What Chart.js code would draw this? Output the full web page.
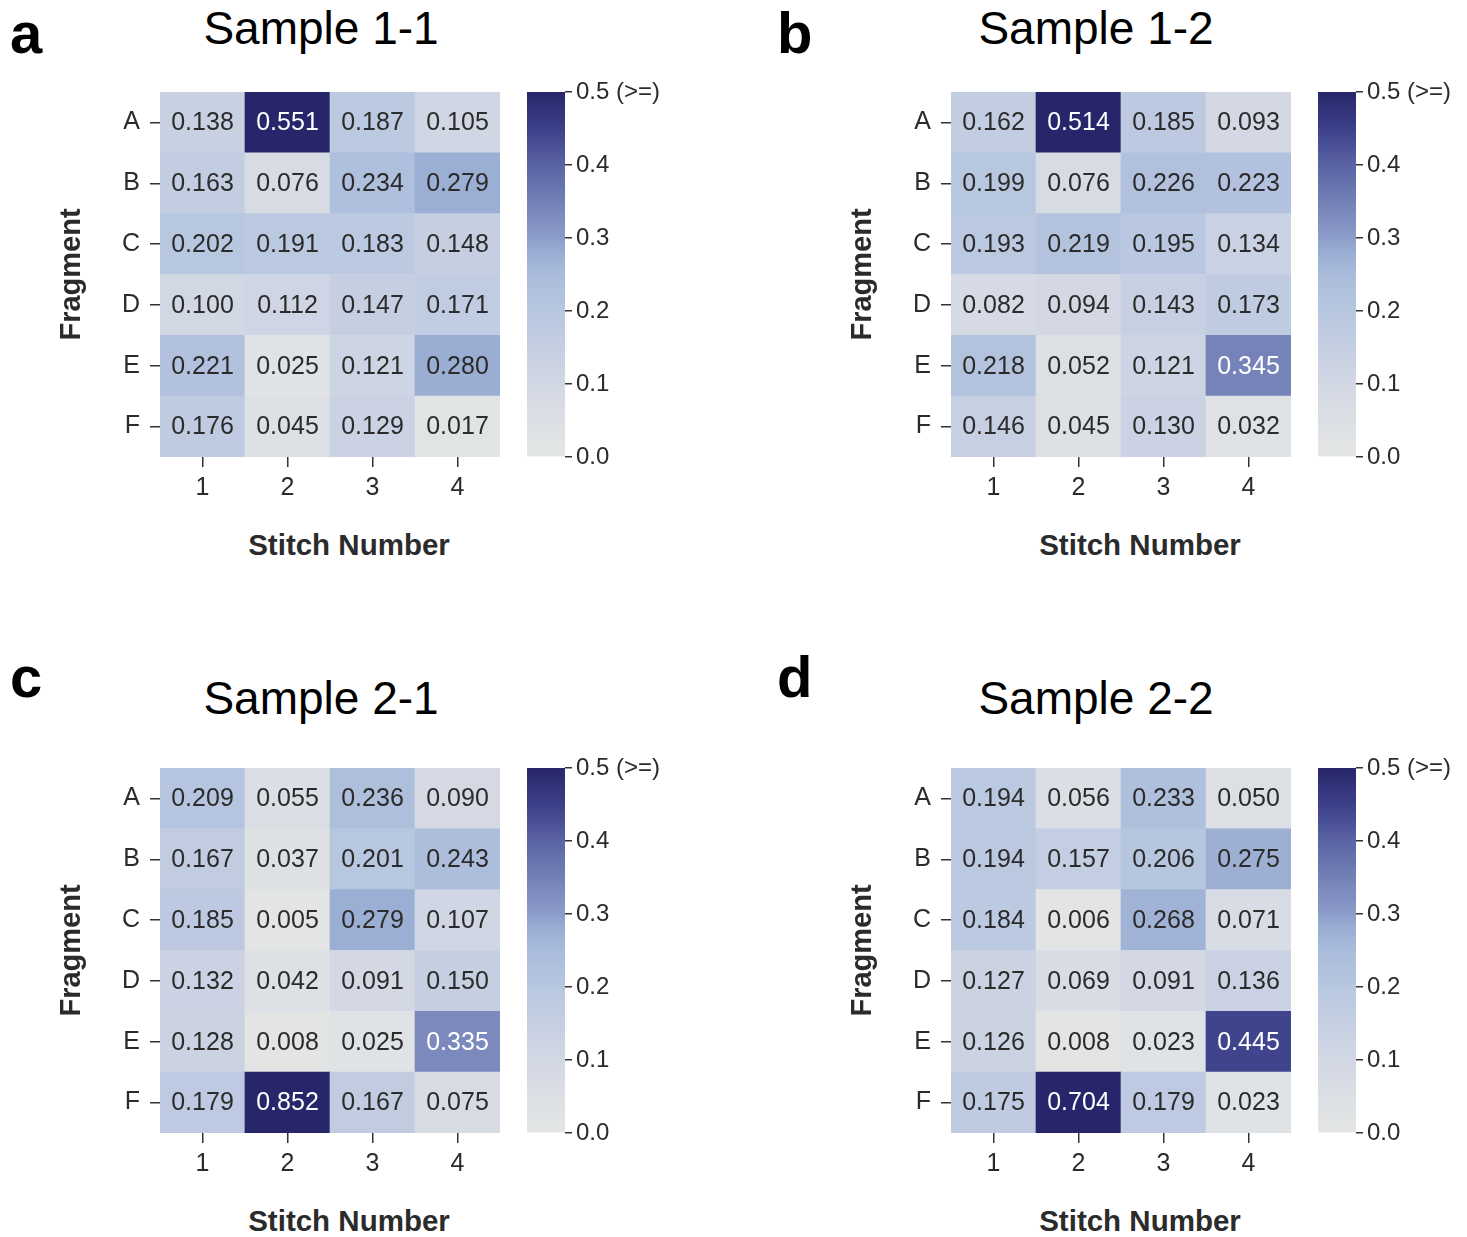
<!DOCTYPE html>
<html>
<head>
<meta charset="utf-8">
<title>Stitch heatmaps</title>
<script src="https://cdn.jsdelivr.net/npm/chart.js@4.4.1/dist/chart.umd.min.js"></script>
<style>
  body { margin: 0; background: #fff; }
  #page { position: relative; width: 1467px; height: 1237px; overflow: hidden; font-family: "Liberation Sans", Arial, sans-serif; }
  canvas { position: absolute; }
  .txt { position: absolute; white-space: nowrap; line-height: 1; color: #000; }
  .letter { font-size: 58px; font-weight: bold; }
  .title { font-size: 46px; transform: translateX(-50%); }
  .xtitle { font-size: 29.5px; font-weight: bold; color: #2b2b2b; transform: translateX(-50%); }
</style>
</head>
<body>
<div id="page"></div>
<script>
// rows are fragments A..F, columns stitch 1..4
var fragments = ['A', 'B', 'C', 'D', 'E', 'F'];
var stitches = ['1', '2', '3', '4'];
var cbarTicks = [0, 0.1, 0.2, 0.3, 0.4, 0.5];
var vmax = 0.5;

var sample11 = [
  [0.138, 0.551, 0.187, 0.105],
  [0.163, 0.076, 0.234, 0.279],
  [0.202, 0.191, 0.183, 0.148],
  [0.100, 0.112, 0.147, 0.171],
  [0.221, 0.025, 0.121, 0.280],
  [0.176, 0.045, 0.129, 0.017]
];
var sample12 = [
  [0.162, 0.514, 0.185, 0.093],
  [0.199, 0.076, 0.226, 0.223],
  [0.193, 0.219, 0.195, 0.134],
  [0.082, 0.094, 0.143, 0.173],
  [0.218, 0.052, 0.121, 0.345],
  [0.146, 0.045, 0.130, 0.032]
];
var sample21 = [
  [0.209, 0.055, 0.236, 0.090],
  [0.167, 0.037, 0.201, 0.243],
  [0.185, 0.005, 0.279, 0.107],
  [0.132, 0.042, 0.091, 0.150],
  [0.128, 0.008, 0.025, 0.335],
  [0.179, 0.852, 0.167, 0.075]
];
var sample22 = [
  [0.194, 0.056, 0.233, 0.050],
  [0.194, 0.157, 0.206, 0.275],
  [0.184, 0.006, 0.268, 0.071],
  [0.127, 0.069, 0.091, 0.136],
  [0.126, 0.008, 0.023, 0.445],
  [0.175, 0.704, 0.179, 0.023]
];

// colormap, value -> rgb
var colorStops = [
  [0.00, 228, 230, 229],
  [0.05, 220, 223, 228],
  [0.10, 210, 215, 228],
  [0.15, 197, 207, 226],
  [0.20, 184, 199, 224],
  [0.25, 170, 188, 219],
  [0.28, 154, 173, 211],
  [0.30, 141, 157, 202],
  [0.35, 115, 128, 182],
  [0.40, 90, 99, 164],
  [0.45, 60, 64, 138],
  [0.50, 40, 38, 106]
];

function cellColor(v) {
  v = Math.max(0, Math.min(vmax, v));
  for (var i = 1; i < colorStops.length; i++) {
    var a = colorStops[i - 1], b = colorStops[i];
    if (v <= b[0]) {
      var t = (v - a[0]) / (b[0] - a[0]);
      return 'rgb(' + [1, 2, 3].map(function (k) { return Math.round(a[k] + (b[k] - a[k]) * t); }).join(',') + ')';
    }
  }
  var l = colorStops[colorStops.length - 1];
  return 'rgb(' + l[1] + ',' + l[2] + ',' + l[3] + ')';
}

var panels = [
  { letter: 'a', title: 'Sample 1-1', values: sample11, hx: 160, hy: 92, lx: 10, ly: 4, tx: 321, ty: 5 },
  { letter: 'b', title: 'Sample 1-2', values: sample12, hx: 951, hy: 92, lx: 777, ly: 4, tx: 1096, ty: 5 },
  { letter: 'c', title: 'Sample 2-1', values: sample21, hx: 160, hy: 768, lx: 10, ly: 648, tx: 321, ty: 675 },
  { letter: 'd', title: 'Sample 2-2', values: sample22, hx: 951, hy: 768, lx: 777, ly: 648, tx: 1096, ty: 675 }
];

Chart.defaults.font.family = '"Liberation Sans", Arial, sans-serif';
Chart.defaults.color = '#2b2b2b';

var cellLabels = {
  id: 'cellLabels',
  afterDatasetsDraw: function (chart) {
    var ctx = chart.ctx;
    ctx.save();
    ctx.font = '25px "Liberation Sans", Arial, sans-serif';
    ctx.textAlign = 'center';
    ctx.textBaseline = 'middle';
    chart.data.datasets.forEach(function (ds, d) {
      chart.getDatasetMeta(d).data.forEach(function (bar, c) {
        var v = ds.cellValues[c];
        ctx.fillStyle = v > 0.3 ? '#fff' : '#2b2b2b';
        ctx.fillText(v.toFixed(3), bar.x, (bar.y + bar.base) / 2 + 1);
      });
    });
    ctx.restore();
  }
};

function addCanvas(left, top, w, h) {
  var c = document.createElement('canvas');
  c.width = w; c.height = h;
  c.style.left = left + 'px'; c.style.top = top + 'px';
  document.getElementById('page').appendChild(c);
  return c;
}

function addText(cls, text, left, top) {
  var d = document.createElement('div');
  d.className = 'txt ' + cls;
  d.textContent = text;
  d.style.left = left + 'px'; d.style.top = top + 'px';
  document.getElementById('page').appendChild(d);
}

function heatmap(canvas, values) {
  var datasets = [];
  // bottom row first so that A ends up on top
  for (var r = fragments.length - 1; r >= 0; r--) {
    datasets.push({
      label: fragments[r],
      data: stitches.map(function () { return 1; }),
      cellValues: values[r],
      backgroundColor: values[r].map(cellColor),
      borderWidth: 0,
      barPercentage: 1,
      categoryPercentage: 1
    });
  }
  return new Chart(canvas, {
    type: 'bar',
    data: { labels: stitches, datasets: datasets },
    options: {
      responsive: false,
      animation: false,
      layout: { padding: { top: 28, right: 10, left: 0, bottom: 0 } },
      plugins: { legend: { display: false }, tooltip: { enabled: false } },
      scales: {
        x: {
          stacked: true,
          grid: { offset: false, drawOnChartArea: false, tickLength: 10, color: '#333', lineWidth: 1.5 },
          border: { display: false },
          ticks: { font: { size: 25 }, padding: 6 },
          afterFit: function (s) { s.height = 43; }
        },
        y: {
          stacked: true,
          min: 0,
          max: fragments.length,
          afterBuildTicks: function (s) {
            s.ticks = fragments.map(function (f, i) { return { value: fragments.length - 0.5 - i }; });
          },
          grid: { drawOnChartArea: false, tickLength: 10, color: '#333', lineWidth: 1.5 },
          border: { display: false },
          ticks: {
            font: { size: 25 }, padding: 10,
            callback: function (v, i) { return fragments[i]; }
          },
          title: { display: true, text: 'Fragment', font: { size: 29, weight: 'bold' }, padding: { top: 15, bottom: 0 } },
          afterFit: function (s) { s.width = 120; }
        }
      }
    },
    plugins: [cellLabels]
  });
}

function barGradient(c) {
  var chart = c.chart;
  if (!chart.chartArea) return null;
  var y = chart.scales.y;
  var g = chart.ctx.createLinearGradient(0, y.getPixelForValue(0), 0, y.getPixelForValue(vmax));
  colorStops.forEach(function (s) {
    g.addColorStop(s[0] / vmax, 'rgb(' + s[1] + ',' + s[2] + ',' + s[3] + ')');
  });
  return g;
}

function colorbar(canvas) {
  return new Chart(canvas, {
    type: 'bar',
    data: {
      labels: [''],
      datasets: [{ data: [[cbarTicks[0], vmax]], backgroundColor: barGradient, borderWidth: 0, barPercentage: 1, categoryPercentage: 1 }]
    },
    options: {
      responsive: false,
      animation: false,
      layout: { padding: { top: 20, bottom: 23, left: 7, right: 0 } },
      plugins: { legend: { display: false }, tooltip: { enabled: false } },
      scales: {
        x: { display: false },
        y: {
          position: 'right',
          min: 0,
          max: vmax,
          afterBuildTicks: function (s) {
            s.ticks = cbarTicks.map(function (v) { return { value: v }; });
          },
          grid: { drawOnChartArea: false, tickLength: 7, color: '#333', lineWidth: 1.5 },
          border: { display: false },
          ticks: {
            font: { size: 24 }, padding: 4,
            callback: function (v, i) { return i === cbarTicks.length - 1 ? v.toFixed(1) + ' (>=)' : v.toFixed(1); }
          },
          afterFit: function (s) { s.width = 115; }
        }
      }
    }
  });
}

panels.forEach(function (p) {
  addText('letter', p.letter, p.lx, p.ly);
  addText('title', p.title, p.tx, p.ty);
  addText('xtitle', 'Stitch Number', p.hx + 189, p.hy + 438);
  heatmap(addCanvas(p.hx - 120, p.hy - 28, 470, 436), p.values);
  colorbar(addCanvas(p.hx + 360, p.hy - 20, 160, 408));
});
</script>
</body>
</html>
